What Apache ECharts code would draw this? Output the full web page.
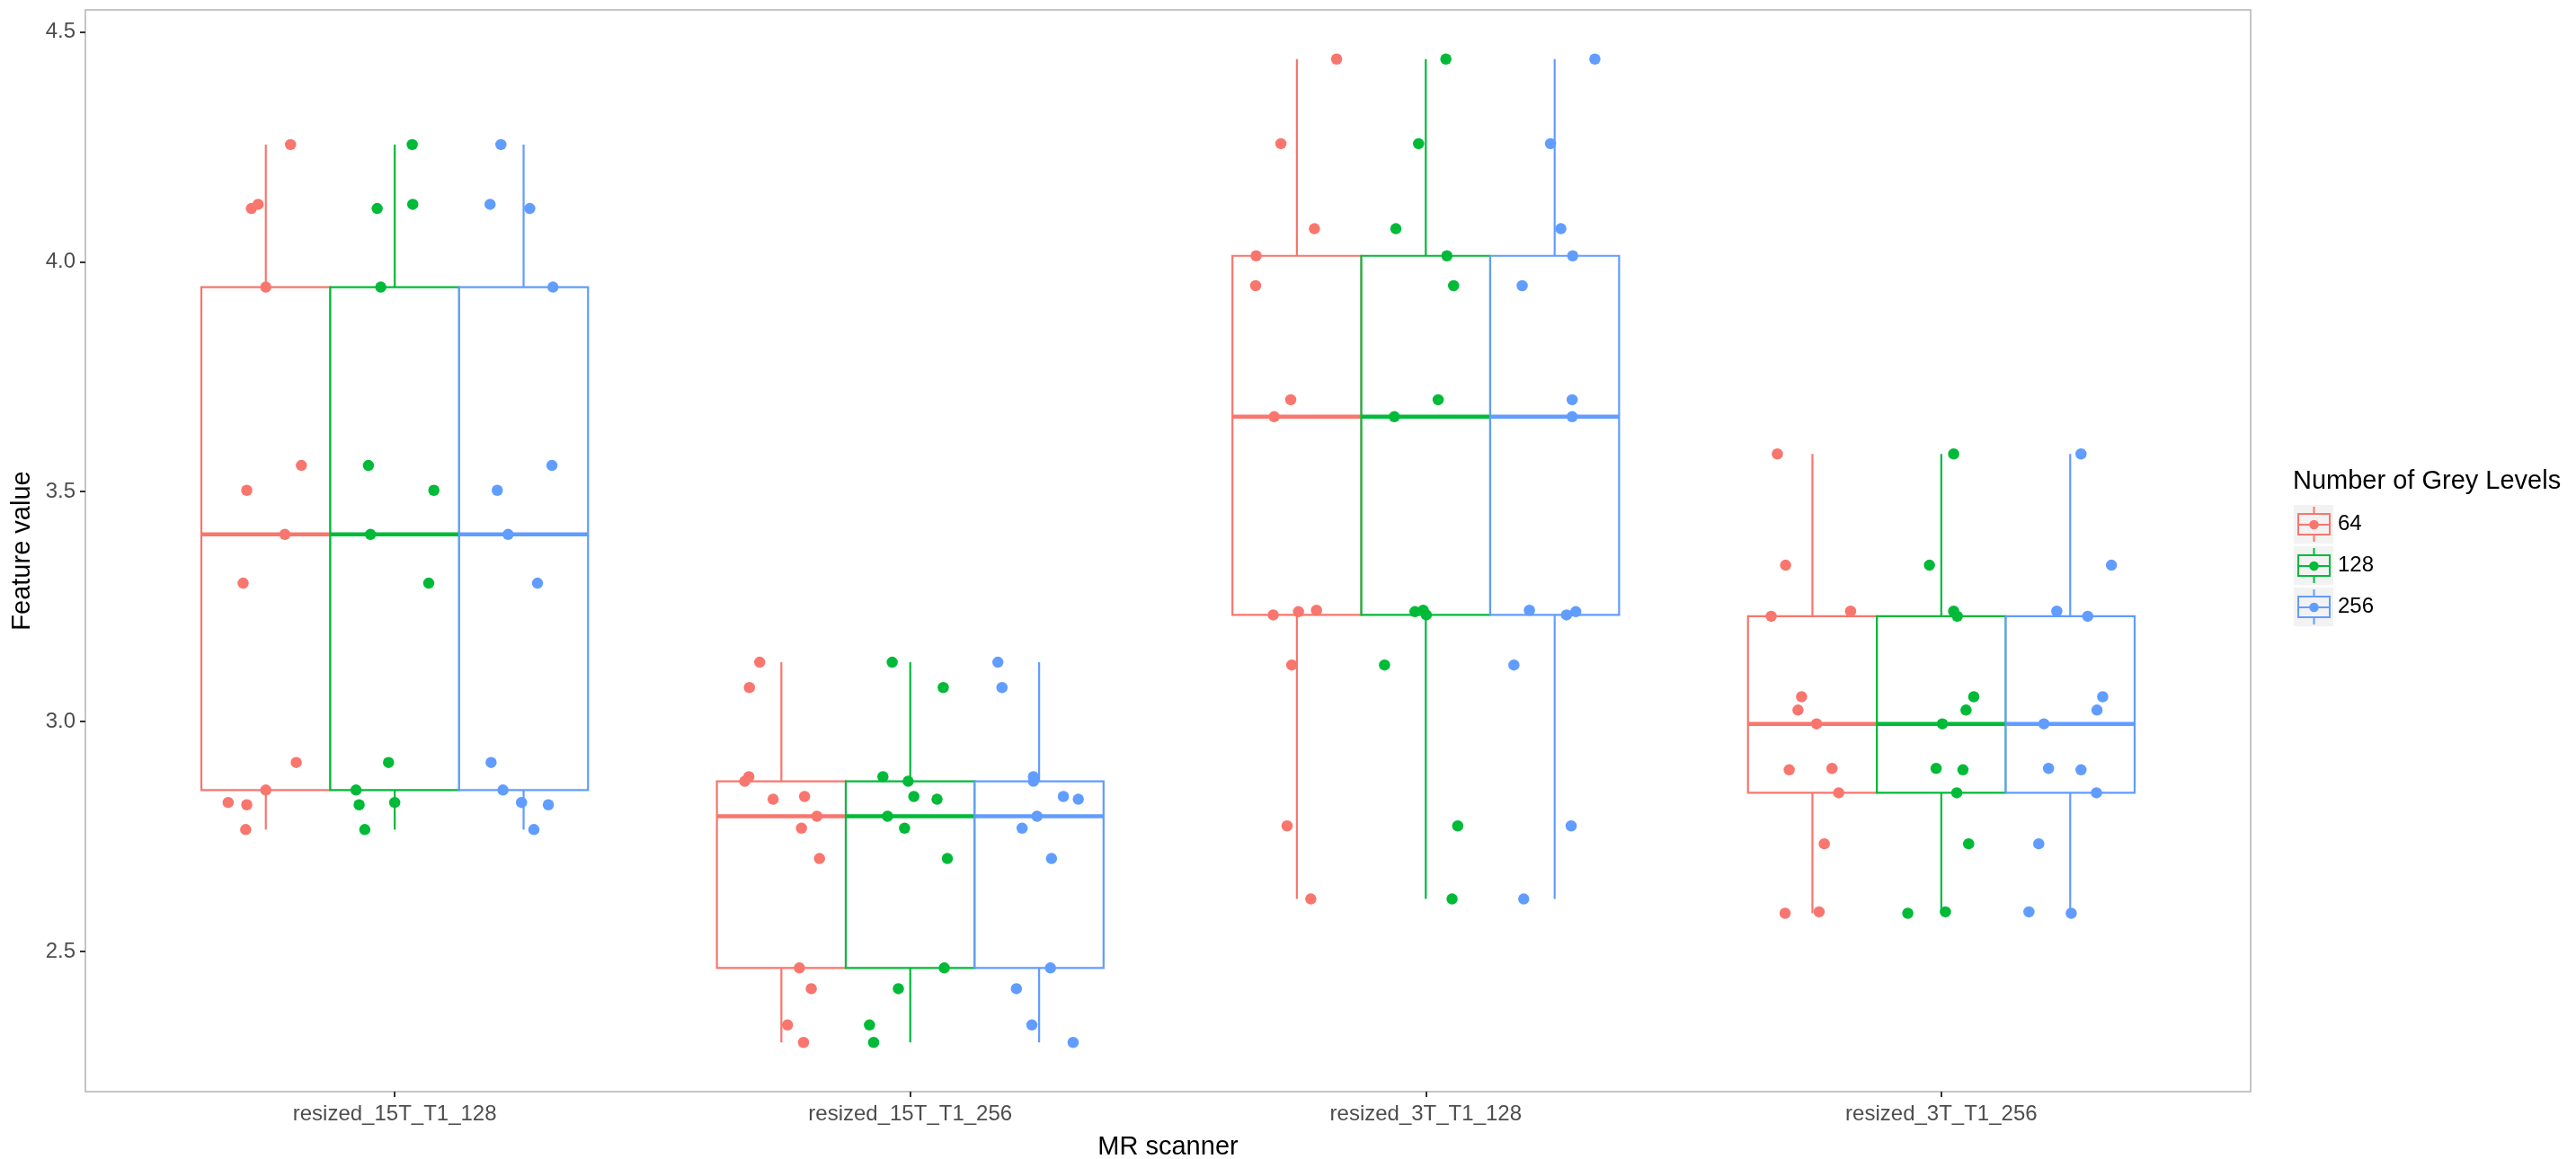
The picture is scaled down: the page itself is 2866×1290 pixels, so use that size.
<!DOCTYPE html>
<html>
<head>
<meta charset="utf-8">
<title>Feature value by MR scanner</title>
<script src="https://cdn.jsdelivr.net/npm/echarts@6/dist/echarts.min.js"></script>
<style>
  html, body { margin: 0; padding: 0; background: #ffffff; }
  #main { width: 2866px; height: 1290px; }
</style>
</head>
<body>
<div id="main"></div>
<script>
var scanners = ['resized_15T_T1_128', 'resized_15T_T1_256', 'resized_3T_T1_128', 'resized_3T_T1_256'];
var greyLevels = ['64', '128', '256'];
var yTicks = [2.5, 3.0, 3.5, 4.0, 4.5];
var xTicks = [1, 2, 3, 4];

// feature values of each scanner (identical for every grey level)
var values15T128 = [4.255, 4.125, 4.116, 3.945, 3.557, 3.503, 3.407, 3.301, 2.911, 2.851, 2.824, 2.819, 2.765];
var values15T256 = [3.129, 3.074, 2.880, 2.870, 2.837, 2.831, 2.794, 2.768, 2.702, 2.464, 2.419, 2.340, 2.302];
var values3T128  = [4.441, 4.257, 4.072, 4.013, 3.948, 3.700, 3.663, 3.242, 3.239, 3.232, 3.123, 2.773, 2.614];
var values3T256  = [3.582, 3.340, 3.240, 3.229, 3.054, 3.025, 2.995, 2.898, 2.895, 2.845, 2.734, 2.586, 2.583];
var featureValues = [values15T128, values15T256, values3T128, values3T256];

// horizontal jitter of every point (category units), same order as the values
var jitter64 = [
  [0.048, -0.015, -0.028, 0.000, 0.069, -0.037, 0.037, -0.044, 0.059, 0.000, -0.073, -0.037, -0.039],
  [-0.042, -0.062, -0.063, -0.071, 0.045, -0.016, 0.069, 0.039, 0.074, 0.035, 0.058, 0.012, 0.043],
  [0.077, -0.031, 0.034, -0.079, -0.080, -0.012, -0.044, 0.038, 0.003, -0.046, -0.010, -0.019, 0.027],
  [-0.068, -0.052, 0.074, -0.080, -0.021, -0.028, 0.008, 0.038, -0.045, 0.051, 0.023, 0.013, -0.053]
];
var jitter128 = [
  [0.034, 0.035, -0.034, -0.027, -0.051, 0.076, -0.047, 0.066, -0.012, -0.075, 0.000, -0.069, -0.058],
  [-0.035, 0.064, -0.053, -0.004, 0.007, 0.052, -0.044, -0.011, 0.072, 0.066, -0.023, -0.079, -0.071],
  [0.039, -0.014, -0.058, 0.041, 0.054, 0.024, -0.061, -0.005, -0.021, 0.001, -0.080, 0.062, 0.051],
  [0.024, -0.023, 0.024, 0.031, 0.063, 0.048, 0.002, -0.010, 0.042, 0.030, 0.053, 0.008, -0.065]
];
var jitter256 = [
  [-0.044, -0.065, 0.012, 0.057, 0.055, -0.051, -0.030, 0.027, -0.063, -0.040, -0.004, 0.048, 0.020],
  [-0.080, -0.072, -0.011, -0.011, 0.047, 0.076, -0.004, -0.033, 0.024, 0.022, -0.044, -0.014, 0.066],
  [0.078, -0.008, 0.012, 0.035, -0.063, 0.034, 0.034, -0.049, 0.041, 0.023, -0.079, 0.032, -0.060],
  [0.021, 0.080, -0.026, 0.034, 0.063, 0.052, -0.051, -0.042, 0.021, 0.051, -0.061, -0.080, 0.002]
];
var jitters = [jitter64, jitter128, jitter256];

var colors = ['#F8766D', '#00BA38', '#619CFF'];
var FONT = '"Liberation Sans", Arial, Helvetica, sans-serif';
var BOX_WIDTH = 0.25;
var dodge = [-0.25, 0, 0.25];

// legend key: box with whiskers, median and a dot (44 x 43)
var KEY_PATH = 'path://M0 0h0.01v0.01h-0.01Z M43.99 42.99h0.01v0.01h-0.01Z ' +
  'M4 9H41V34H4Z M6 11V21H39V11Z M6 23V32H39V23Z ' +
  'M21.5 2H23.5V9H21.5Z M21.5 34H23.5V41H21.5Z ' +
  'M17.2 22A5.3 5.3 0 1 1 27.8 22A5.3 5.3 0 1 1 17.2 22Z';

function quantile(sorted, p) {
  var h = (sorted.length - 1) * p;
  var lo = Math.floor(h);
  var hi = Math.min(lo + 1, sorted.length - 1);
  return sorted[lo] + (h - lo) * (sorted[hi] - sorted[lo]);
}

// [q1, median, q3, lower whisker, upper whisker], ggplot style
function boxStats(vals) {
  var s = vals.slice().sort(function(a, b) { return a - b; });
  var q1 = quantile(s, 0.25), med = quantile(s, 0.5), q3 = quantile(s, 0.75);
  var iqr = q3 - q1;
  var inside = s.filter(function(v) { return v >= q1 - 1.5 * iqr && v <= q3 + 1.5 * iqr; });
  return [q1, med, q3, inside[0], inside[inside.length - 1]];
}

function boxData(g) {
  return featureValues.map(function(vals, c) {
    return [c + 1 + dodge[g]].concat(boxStats(vals));
  });
}

function pointData(g) {
  var out = [];
  featureValues.forEach(function(vals, c) {
    vals.forEach(function(v, k) {
      out.push([c + 1 + dodge[g] + jitters[g][c][k], v]);
    });
  });
  return out;
}

function makeBoxRenderer(color) {
  return function(params, api) {
    var x = api.value(0);
    var half = BOX_WIDTH / 2;
    var tl = api.coord([x - half, api.value(3)]);
    var br = api.coord([x + half, api.value(1)]);
    var mL = api.coord([x - half, api.value(2)]);
    var mR = api.coord([x + half, api.value(2)]);
    var lo = api.coord([x, api.value(4)]);
    var hi = api.coord([x, api.value(5)]);
    var lw = 2.2;
    return {
      type: 'group',
      children: [
        { type: 'line', shape: { x1: hi[0], y1: hi[1], x2: hi[0], y2: tl[1] }, style: { stroke: color, lineWidth: lw } },
        { type: 'line', shape: { x1: lo[0], y1: br[1], x2: lo[0], y2: lo[1] }, style: { stroke: color, lineWidth: lw } },
        { type: 'rect', shape: { x: tl[0], y: tl[1], width: br[0] - tl[0], height: br[1] - tl[1] },
          style: { fill: '#ffffff', stroke: color, lineWidth: lw } },
        { type: 'line', shape: { x1: mL[0], y1: mL[1], x2: mR[0], y2: mR[1] }, style: { stroke: color, lineWidth: 4.5 } }
      ]
    };
  };
}

var series = [];
greyLevels.forEach(function(lvl, g) {
  series.push({
    name: lvl,
    type: 'custom',
    renderItem: makeBoxRenderer(colors[g]),
    itemStyle: { color: colors[g] },
    encode: { x: 0, y: [1, 2, 3, 4, 5] },
    data: boxData(g),
    silent: true,
    z: 2
  });
});
greyLevels.forEach(function(lvl, g) {
  series.push({
    name: lvl,
    type: 'scatter',
    symbol: 'circle',
    symbolSize: 12.5,
    itemStyle: { color: colors[g], opacity: 1 },
    data: pointData(g),
    silent: true,
    z: 3
  });
});

var chart = echarts.init(document.getElementById('main'));
chart.setOption({
  animation: false,
  backgroundColor: '#ffffff',
  textStyle: { fontFamily: FONT },
  title: {
    text: 'Number of Grey Levels',
    left: 2551,
    top: 521,
    padding: 0,
    textStyle: { fontSize: 29, fontWeight: 'normal', color: '#000000', fontFamily: FONT }
  },
  legend: {
    data: greyLevels.map(function(n) { return { name: n, icon: KEY_PATH }; }),
    orient: 'vertical',
    left: 2552,
    top: 562,
    padding: 0,
    itemGap: 3,
    itemWidth: 44,
    itemHeight: 43,
    selectedMode: false,
    itemStyle: { borderWidth: 0 },
    textStyle: { fontSize: 24, color: '#000000', fontFamily: FONT }
  },
  graphic: greyLevels.map(function(n, i) {
    return {
      type: 'rect',
      left: 2552,
      top: 562 + i * 46,
      shape: { width: 44, height: 43 },
      style: { fill: '#F2F2F2' },
      z: 0
    };
  }),
  grid: {
    left: 95, right: 362, top: 11, bottom: 75,
    outerBoundsMode: 'none',
    containLabel: false,
    show: true, backgroundColor: '#ffffff', borderColor: '#B3B3B3', borderWidth: 1.5
  },
  xAxis: {
    type: 'value',
    min: 0.4,
    max: 4.6,
    name: 'MR scanner',
    nameLocation: 'middle',
    nameGap: 47,
    nameTextStyle: { fontSize: 29, color: '#000000', fontFamily: FONT },
    axisLine: { show: false },
    axisTick: { show: true, customValues: xTicks, length: 6, lineStyle: { color: '#333333', width: 2 } },
    axisLabel: {
      customValues: xTicks,
      formatter: function(v) { return scanners[Math.round(v) - 1]; },
      fontSize: 24, color: '#4D4D4D', margin: 13, fontFamily: FONT
    },
    splitLine: { show: false }
  },
  yAxis: {
    type: 'value',
    min: 2.195,
    max: 4.548,
    name: 'Feature value',
    nameLocation: 'middle',
    nameGap: 54,
    nameTextStyle: { fontSize: 29, color: '#000000', fontFamily: FONT },
    axisLine: { show: false },
    axisTick: { show: true, customValues: yTicks, length: 6, lineStyle: { color: '#333333', width: 2 } },
    axisLabel: {
      customValues: yTicks,
      formatter: function(v) { return v.toFixed(1); },
      fontSize: 24, color: '#4D4D4D', margin: 11, fontFamily: FONT
    },
    splitLine: { show: false }
  },
  series: series
});
</script>
</body>
</html>
